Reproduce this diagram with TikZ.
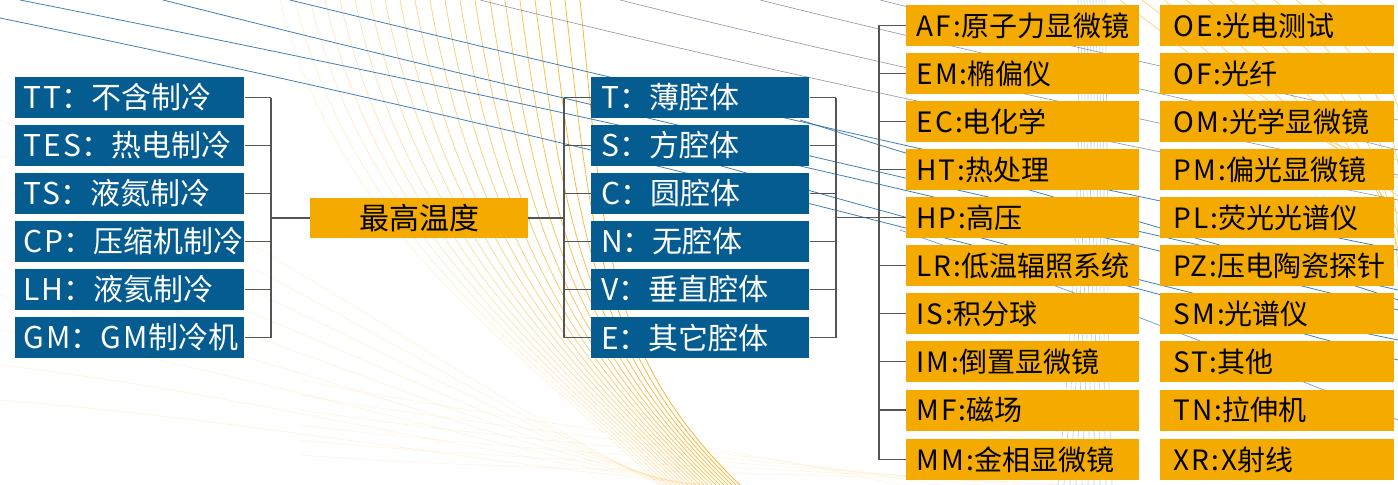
\documentclass[tikz,border=0pt]{standalone}
\usepackage{fontspec}
\newfontfamily\cjk{Noto Sans CJK SC}
\newfontfamily\lsp[LetterSpace=8]{Noto Sans CJK SC}
\definecolor{bboxc}{HTML}{045C91}
\definecolor{oboxc}{HTML}{F5AA00}
\definecolor{connc}{HTML}{555555}
\definecolor{blinc}{HTML}{1E6AAA}
\definecolor{glinc}{HTML}{6E7088}
\definecolor{ylinc}{HTML}{F6B22A}
\tikzset{
  bb/.style={fill=bboxc, text=white, anchor=west, minimum height=30.75pt, inner ysep=0pt, align=left, font=\cjk\fontsize{22.5}{24}\selectfont},
  bl/.style={bb, inner xsep=6pt, text width=159.75pt},
  bm/.style={bb, inner xsep=7.5pt, text width=148.5pt},
  ob/.style={fill=oboxc, text=black, anchor=west, minimum height=30.75pt, inner ysep=0pt, align=left, font=\cjk\fontsize{21}{24}\selectfont},
  ol/.style={ob, inner xsep=7.5pt, text width=159.75pt},
  orr/.style={ob, inner xsep=9.75pt, text width=156pt},
  connl/.style={draw=connc, line width=1pt},
  bdec/.style={draw=blinc, line width=0.6pt, opacity=0.85},
  gdec/.style={draw=glinc, line width=0.5pt, opacity=0.7},
  ydec/.style={draw=ylinc, line width=0.6pt},
  vdec/.style={draw=blinc!45, line width=0.45pt, opacity=0.7},
}
\begin{document}
\begin{tikzpicture}[x=0.75pt,y=-0.75pt]
\useasboundingbox (0,0) rectangle (1398,485);
% ---------- background decoration ----------
\begin{scope}
\clip (0,0) rectangle (1398,485);
% yellow fan
\foreach \i in {0,...,20} {
  \pgfmathsetmacro{\s}{280+15*\i}
  \pgfmathsetmacro{\e}{660+4*\i}
  \pgfmathsetmacro{\op}{0.15+0.04*\i}
  \draw[ydec, opacity=\op] (\s,0) .. controls ({\s+0.15*(\e-\s)},230) and ({\e-140},350) .. (\e,485);
}
% faint yellow from left
\foreach \i in {0,...,8} {
  \draw[ydec, opacity=0.12] (0,{120+35*\i}) .. controls (250,{220+25*\i}) and (450,{380+10*\i}) .. ({660+6*\i},485);
}
\foreach \i in {0,...,5} {
  \draw[ydec, opacity=0.1] (300,{380+15*\i}) .. controls (500,{420+10*\i}) and (700,{440+6*\i}) .. ({900+40*\i},485);
}
% yellow upper right
\foreach \i in {0,...,9} {
  \draw[ydec, opacity=0.55] ({1120+22*\i},0) .. controls ({1200+22*\i},60) and ({1300+15*\i},150) .. (1398,{160+18*\i});
}
% light blue verticals
\foreach \i in {0,...,9} {
  \draw[vdec] ({1078+3*\i},0) .. controls ({1082+3*\i},200) and ({1070+4*\i},350) .. ({1058+6*\i},485);
}
% blue and gray sweeping lines
\draw[bdec] (20,0) .. controls (500,95) and (900,185) .. (1398,310);
\draw[bdec] (163,0) .. controls (600,110) and (1000,200) .. (1398,290);
\draw[bdec] (0,18) .. controls (400,100) and (900,220) .. (1398,360);
\draw[bdec] (290,0) .. controls (700,100) and (1000,170) .. (1398,250);
\draw[gdec] (480,0) .. controls (800,80) and (1100,140) .. (1398,200);
\draw[gdec] (620,0) .. controls (900,70) and (1150,120) .. (1398,175);
\draw[gdec] (760,0) .. controls (1000,60) and (1200,100) .. (1398,150);
\draw[gdec] (880,0) .. controls (1080,50) and (1250,85) .. (1398,120);
\draw[bdec] (700,160) .. controls (950,230) and (1200,300) .. (1398,340);
\draw[bdec] (800,120) .. controls (1050,200) and (1250,250) .. (1398,300);
\draw[bdec, opacity=0.6] (900,230) .. controls (1100,300) and (1250,360) .. (1398,420);
\end{scope}
% ---------- left column ----------
\node[bl] (tt)  at (15, 97.5)  {{\lsp TT}：不含制冷};
\node[bl] (tes) at (15,145.5)  {{\lsp TES}：热电制冷};
\node[bl] (ts)  at (15,193.5)  {{\lsp TS}：液氮制冷};
\node[bl] (cp)  at (15,241.5)  {{\lsp CP}：压缩机制冷};
\node[bl] (lh)  at (15,289.5)  {{\lsp LH}：液氦制冷};
\node[bl] (gm)  at (15,337.5)  {{\lsp GM}：{\lsp GM}制冷机};
% ---------- center ----------
\node[fill=oboxc, minimum width=163.5pt, minimum height=30pt, inner sep=0pt, font=\cjk\fontsize{22.5}{24}\selectfont] (max) at (419,218) {最高温度};
% ---------- middle column ----------
\node[bm] (T) at (591, 97.5) {{\lsp T}：薄腔体};
\node[bm] (S) at (591,145.5) {{\lsp S}：方腔体};
\node[bm] (C) at (591,193.5) {{\lsp C}：圆腔体};
\node[bm] (N) at (591,241.5) {{\lsp N}：无腔体};
\node[bm] (V) at (591,289.5) {{\lsp V}：垂直腔体};
\node[bm] (E) at (591,337.5) {{\lsp E}：其它腔体};
% ---------- orange left column ----------
\node[ol] (af) at (906, 25.5) {{\lsp AF:}原子力显微镜};
\node[ol] (em) at (906, 73.5) {{\lsp EM:}椭偏仪};
\node[ol] (ec) at (906,121.5) {{\lsp EC:}电化学};
\node[ol] (ht) at (906,169.5) {{\lsp HT:}热处理};
\node[ol] (hp) at (906,217.5) {{\lsp HP:}高压};
\node[ol] (lr) at (906,265.5) {{\lsp LR:}低温辐照系统};
\node[ol] (is) at (906,313.5) {{\lsp IS:}积分球};
\node[ol] (im) at (906,361.5) {{\lsp IM:}倒置显微镜};
\node[ol] (mf) at (906,410)   {{\lsp MF:}磁场};
\node[ol] (mm) at (906,459.5) {{\lsp MM:}金相显微镜};
% ---------- orange right column ----------
\node[orr] (oe) at (1160, 25.5) {{\lsp OE:}光电测试};
\node[orr] (of) at (1160, 73.5) {{\lsp OF:}光纤};
\node[orr] (om) at (1160,121.5) {{\lsp OM:}光学显微镜};
\node[orr] (pm) at (1160,169.5) {{\lsp PM:}偏光显微镜};
\node[orr] (pl) at (1160,217.5) {{\lsp PL:}荧光光谱仪};
\node[orr] (pz) at (1160,265.5) {{\lsp PZ:}压电陶瓷探针};
\node[orr] (sm) at (1160,313.5) {{\lsp SM:}光谱仪};
\node[orr] (st) at (1160,361.5) {{\lsp ST:}其他};
\node[orr] (tn) at (1160,410)   {{\lsp TN:}拉伸机};
\node[orr] (xr) at (1160,459.5) {{\lsp XR:}{\lsp X}射线};
% ---------- connectors ----------
\coordinate (lbx) at (271,0);
\coordinate (mlx) at (564,0);
\coordinate (mrx) at (836,0);
\coordinate (rtx) at (879,0);
\foreach \n in {tt,tes,ts,cp,lh,gm} { \draw[connl] (\n.east) -- (\n.east -| lbx); }
\draw[connl] (tt.east -| lbx) -- (gm.east -| lbx);
\draw[connl] (max.west -| lbx) -- (max.west);
\draw[connl] (max.east) -- (max.east -| mlx);
\foreach \n in {T,S,C,N,V,E} { \draw[connl] (\n.west -| mlx) -- (\n.west); \draw[connl] (\n.east) -- (\n.east -| mrx); }
\draw[connl] (T.west -| mlx) -- (E.west -| mlx);
\draw[connl] (T.east -| mrx) -- (E.east -| mrx);
\draw[connl] (hp.west -| mrx) -- (hp.west);
\foreach \n in {af,em,ec,ht,lr,is,im,mf,mm} { \draw[connl] (\n.west -| rtx) -- (\n.west); }
\draw[connl] (af.west -| rtx) -- (mm.west -| rtx);
\end{tikzpicture}
\end{document}
